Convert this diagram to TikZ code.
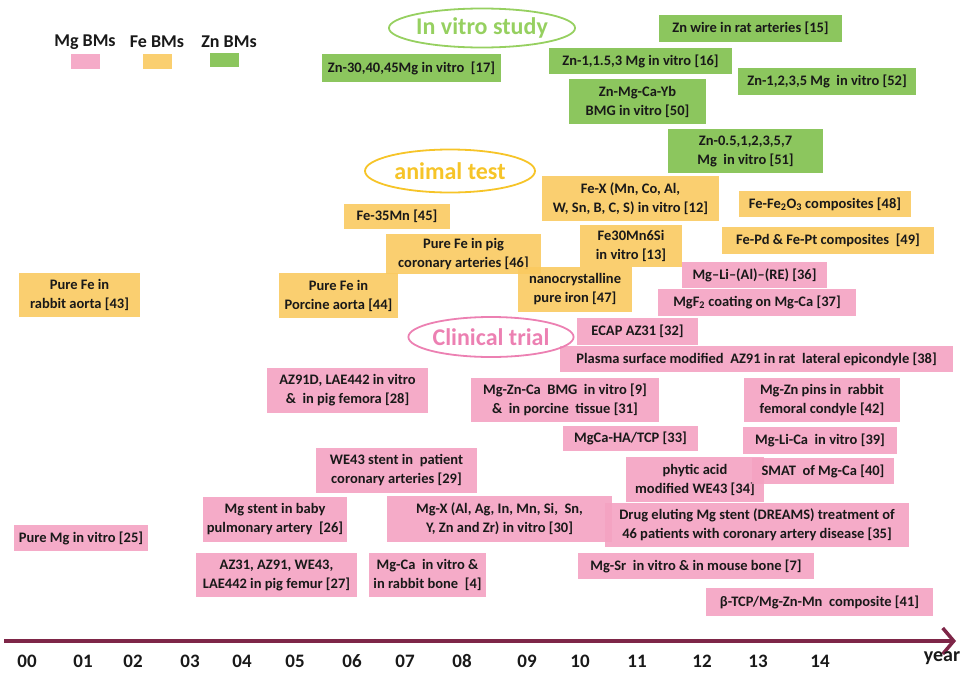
\documentclass[tikz,border=0pt]{standalone}
\usepackage{fontspec}
\setmainfont{Carlito}
\usetikzlibrary{arrows.meta,shapes.geometric}

\definecolor{mgpink}{RGB}{244,162,194}
\definecolor{feyellow}{RGB}{250,202,96}
\definecolor{zngreen}{RGB}{128,192,76}
\definecolor{vitrogreen}{RGB}{150,208,96}
\definecolor{animalgold}{RGB}{246,196,40}
\definecolor{clinicpink}{RGB}{236,128,178}
\definecolor{axisred}{RGB}{126,38,72}

\begin{document}
\begin{tikzpicture}[x=1pt, y=-1pt,
    every node/.style = {align=center, inner sep=0pt, text=black!90,
      font=\bfseries\fontsize{14.5}{19}\selectfont},
    sz/.style 2 args = {minimum width=#1, minimum height=#2},
    mgbox/.style = {rectangle, fill=mgpink, fill opacity=0.9, text opacity=1},
    febox/.style = {rectangle, fill=feyellow, fill opacity=0.9, text opacity=1},
    znbox/.style = {rectangle, fill=zngreen, fill opacity=0.9, text opacity=1},
    stage/.style = {ellipse, draw=#1, text=#1, line width=1.8pt,
      font=\bfseries\fontsize{24}{28}\selectfont},
    legendtxt/.style = {font=\bfseries\fontsize{18}{20}\selectfont},
    yearlab/.style = {font=\bfseries\fontsize{19}{21}\selectfont}]
  \useasboundingbox (0,0) rectangle (965,672);

  % legend
  \node[legendtxt] (lmg) at (85,42) {Mg BMs};
  \node[legendtxt] (lfe) at (157,42) {Fe BMs};
  \node[legendtxt] (lzn) at (229,42) {Zn BMs};
  \node[mgbox, sz={29}{15}] (smg) at (85.5,61.5) {};
  \node[febox, sz={29}{15}] (sfe) at (157.5,61.5) {};
  \node[znbox, sz={29}{14}] (szn) at (224.5,60) {};

  % Zn
  \node[znbox, sz={183}{27}] (zn15) at (750.5,28.5) {Zn wire in rat arteries [15]};
  \node[znbox, sz={179}{28}] (zn17) at (411.5,68) {Zn-30,40,45Mg in vitro\ \ [17]};
  \node[znbox, sz={183}{26}] (zn16) at (640.5,61) {Zn-1,1.5,3 Mg in vitro [16]};
  \node[znbox, sz={178}{27}] (zn52) at (827,81.5) {Zn-1,2,3,5 Mg\ \ in vitro [52]};
  \node[znbox, sz={137}{45}] (zn50) at (637.5,101.5) {Zn-Mg-Ca-Yb\\BMG in vitro [50]};
  \node[znbox, sz={155}{44}] (zn51) at (745.5,151) {Zn-0.5,1,2,3,5,7\\Mg\ \ in vitro [51]};

  % Fe
  \node[febox, sz={121}{44}] (fe43) at (79.5,295) {Pure Fe in\\rabbit aorta [43]};
  \node[febox, sz={106}{25}] (fe45) at (397,216.5) {Fe-35Mn [45]};
  \node[febox, sz={155}{40}] (fe46) at (463.5,254) {Pure Fe in pig\\coronary arteries [46]};
  \node[febox, sz={119}{45}] (fe44) at (338.5,295.5) {Pure Fe in\\Porcine aorta [44]};
  \node[febox, sz={177}{45}] (fe12) at (630.5,198.5) {Fe-X (Mn, Co, Al,\\W, Sn, B, C, S) in vitro [12]};
  \node[febox, sz={102}{42}] (fe13) at (631,246) {Fe30Mn6Si\\in vitro [13]};
  \node[febox, sz={114}{45}] (fe47) at (575,289.5) {nanocrystalline\\pure iron [47]};
  \node[febox, sz={172}{26}] (fe48) at (825,204) {Fe-Fe\textsubscript{2}O\textsubscript{3} composites [48]};
  \node[febox, sz={212}{27}] (fe49) at (828,240.5) {Fe-Pd \& Fe-Pt composites\ \ [49]};

  % Mg
  \node[mgbox, sz={145}{26}] (mg36) at (754.5,275) {Mg--Li--(Al)--(RE) [36]};
  \node[mgbox, sz={198}{27}] (mg37) at (757,302.5) {MgF\textsubscript{2} coating on Mg-Ca [37]};
  \node[mgbox, sz={121}{27}] (mg32) at (637.5,331.5) {ECAP AZ31 [32]};
  \node[mgbox, sz={393}{26}] (mg38) at (756.5,359) {Plasma surface modified\ \ AZ91 in rat\ \ lateral epicondyle [38]};
  \node[mgbox, sz={161}{45}] (mg28) at (347.5,390.5) {AZ91D, LAE442 in vitro\\\&\ \ in pig femora [28]};
  \node[mgbox, sz={188}{44}] (mg31) at (565,400) {Mg-Zn-Ca\ \ BMG\ \ in vitro [9]\\\&\ \ in porcine\ \ tissue [31]};
  \node[mgbox, sz={156}{44}] (mg42) at (822,400) {Mg-Zn pins in\ \ rabbit\\femoral condyle [42]};
  \node[mgbox, sz={135}{25}] (mg33) at (630.5,438.5) {MgCa-HA/TCP [33]};
  \node[mgbox, sz={154}{27}] (mg39) at (820,440.5) {Mg-Li-Ca\ \ in vitro [39]};
  \node[mgbox, sz={138}{45}] (mg34) at (695,479.5) {phytic acid\\modified WE43 [34]};
  \node[mgbox, sz={142}{26}] (mg40) at (823,471) {SMAT\ \ of Mg-Ca [40]};
  \node[mgbox, sz={161}{45}] (mg29) at (396.5,470.5) {WE43 stent in\ \ patient\\coronary arteries [29]};
  \node[mgbox, sz={134}{26}] (mg25) at (81,538) {Pure Mg in vitro [25]};
  \node[mgbox, sz={144}{45}] (mg26) at (275,519.5) {Mg stent in baby\\pulmonary artery\ \ [26]};
  \node[mgbox, sz={225}{46}] (mg30) at (499.5,519) {Mg-X (Al, Ag, In, Mn, Si,\ \ Sn,\\Y, Zn and Zr) in vitro [30]};
  \node[mgbox, sz={304}{44}] (mg35) at (757,525) {Drug eluting Mg stent (DREAMS) treatment of\\46 patients with coronary artery disease [35]};
  \node[mgbox, sz={161}{44}] (mg27) at (276.5,575) {AZ31, AZ91, WE43,\\LAE442 in pig femur [27]};
  \node[mgbox, sz={117}{44}] (mg4) at (427.5,575) {Mg-Ca\ \ in vitro \&\\in rabbit bone\ \ [4]};
  \node[mgbox, sz={236}{26}] (mg7) at (696,566) {Mg-Sr\ \ in vitro \& in mouse bone [7]};
  \node[mgbox, sz={227}{28}] (mg41) at (819.5,602) {β-TCP/Mg-Zn-Mn\ \ composite [41]};

  % stages
  \node[stage=vitrogreen, sz={175}{39}] (vitro) at (482,28) {In vitro study};
  \node[stage=animalgold, sz={170}{43}] (animal) at (450,171) {animal test};
  \node[stage=clinicpink, sz={157}{40}] (clinic) at (491,337) {Clinical trial};

  % time axis
  \coordinate (t0) at (4,641);
  \coordinate (t1) at (956,641);
  \draw[axisred, line width=3.5pt, -{Straight Barb[length=11pt, width=26pt]}] (t0) -- (t1);
  \foreach \yr/\xx in {00/27, 01/83, 02/133, 03/190, 04/242, 05/295, 06/352, 07/405,
      08/462, 09/527, 10/580, 11/637, 12/702, 13/758, 14/820}
    \node[yearlab] (y\yr) at (\xx,661) {\yr};
  \node[yearlab, font=\bfseries\fontsize{20}{22}\selectfont] (yyear) at (942,658) {year};
\end{tikzpicture}
\end{document}
